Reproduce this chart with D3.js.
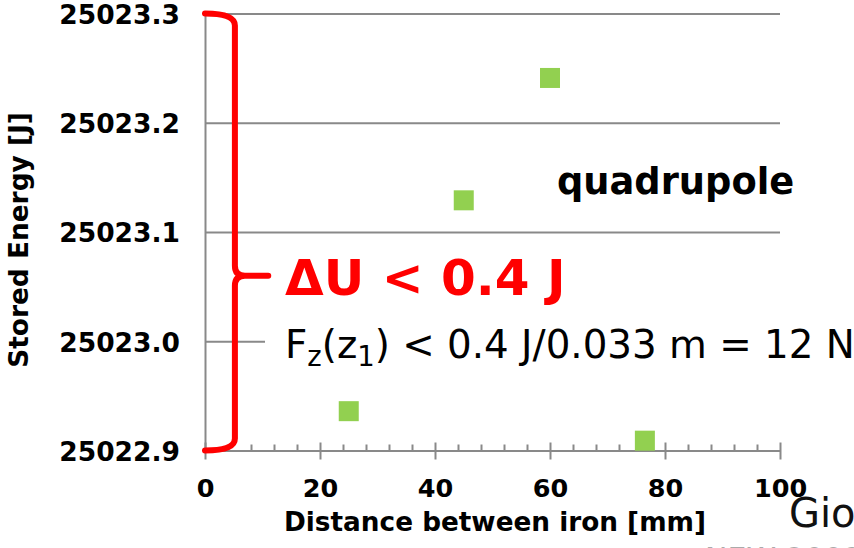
<!DOCTYPE html>
<html>
<head>
<meta charset="utf-8">
<script src="https://cdn.jsdelivr.net/npm/d3@7"></script>
<style>
  html, body { margin: 0; padding: 0; background: #fff; }
  svg { display: block; }
  text { font-family: "DejaVu Sans", Verdana, sans-serif; }
</style>
</head>
<body>
<svg id="chart" width="854" height="548"></svg>
<script>
// ---- data ----
const distances = [25, 45, 60, 76.5];
const energies = [25022.936, 25023.129, 25023.241, 25022.909];
const xTicks = [0, 20, 40, 60, 80, 100];
const yTicks = [25022.9, 25023.0, 25023.1, 25023.2, 25023.3];
const xTitle = "Distance between iron [mm]";
const yTitle = "Stored Energy [J]";
const seriesLabel = "quadrupole";
const deltaLabel = "\u0394U < 0.4 J";
const braceTop = 25023.3, braceBottom = 25022.9, braceTip = 25023.06;

const svg = d3.select("#chart");
const x = d3.scaleLinear().domain([0, 100]).range([205, 780]);
const y = d3.scaleLinear().domain([25022.9, 25023.3]).range([450.5, 13.5]);
const gridColor = "#898989";

// y axis with gridlines
const gy = svg.append("g").attr("transform", `translate(${x(0)},0)`)
  .call(d3.axisLeft(y).tickValues(yTicks).tickSize(-(x(100) - x(0))).tickSizeOuter(0)
        .tickPadding(25).tickFormat(d3.format(".1f")));
gy.select(".domain").attr("stroke", gridColor).attr("stroke-width", 2);
gy.selectAll(".tick line").attr("stroke", gridColor).attr("stroke-width", 2);
gy.selectAll(".tick text").attr("font-size", 26.5).attr("font-weight", "bold").attr("dy", "0.37em")
  .attr("fill", "#000").attr("font-family", "DejaVu Sans, Verdana, sans-serif");

// x axis minor ticks
const minorVals = d3.range(0, 101, 4).filter(v => v % 20 !== 0);
const gxm = svg.append("g").attr("transform", `translate(0,${y(25022.9)})`)
  .call(d3.axisBottom(x).tickValues(minorVals).tickSize(-6).tickSizeOuter(0).tickFormat(""));
gxm.select(".domain").remove();
gxm.selectAll(".tick line").attr("stroke", gridColor).attr("stroke-width", 2);

// x axis major
const gx = svg.append("g").attr("transform", `translate(0,${y(25022.9)})`)
  .call(d3.axisBottom(x).tickValues(xTicks).tickSize(9).tickSizeOuter(0).tickPadding(19));
gx.select(".domain").attr("stroke", gridColor).attr("stroke-width", 2);
gx.selectAll(".tick line").attr("stroke", gridColor).attr("stroke-width", 2).attr("y1", -8);
gx.selectAll(".tick text").attr("font-size", 25.5).attr("font-weight", "bold")
  .attr("fill", "#000").attr("font-family", "DejaVu Sans, Verdana, sans-serif");

// points
svg.append("g").selectAll("rect").data(distances).join("rect")
  .attr("x", (d) => x(d) - 10)
  .attr("y", (d, i) => y(energies[i]) - 10)
  .attr("width", 20).attr("height", 20)
  .attr("fill", "#92D050");

// brace annotation
const x0 = x(0), xv = x(5.2), xt = x(11);
const yT = y(braceTop), yB = y(braceBottom), yM = y(braceTip);
const p = d3.path();
p.moveTo(x0, yT);
p.quadraticCurveTo(xv, yT, xv, yT + 12);
p.lineTo(xv, yM - 10);
p.quadraticCurveTo(xv, yM, xv + 10, yM);
p.lineTo(xt, yM);
p.moveTo(xv + 10, yM);
p.quadraticCurveTo(xv, yM, xv, yM + 10);
p.lineTo(xv, yB - 12);
p.quadraticCurveTo(xv, yB, x0, yB);
svg.append("path").attr("d", p.toString()).attr("fill", "none")
  .attr("stroke", "#FF0000").attr("stroke-width", 6)
  .attr("stroke-linecap", "round").attr("stroke-linejoin", "round");

// white box behind formula
svg.append("rect").attr("x", 265).attr("y", 318).attr("width", 600).attr("height", 54).attr("fill", "#fff");

// titles
svg.append("text").attr("x", 495).attr("y", 531).attr("text-anchor", "middle")
  .attr("font-size", 26.3).attr("font-weight", "bold").text(xTitle);
svg.append("text").attr("transform", "translate(28,240) rotate(-90)").attr("text-anchor", "middle")
  .attr("font-size", 26.4).attr("font-weight", "bold").text(yTitle);

// annotations
svg.append("text").attr("x", 557).attr("y", 194).attr("font-size", 36.8).attr("font-weight", "bold").text(seriesLabel);
svg.append("text").attr("x", 285).attr("y", 295).attr("font-size", 50).attr("font-weight", "bold")
  .attr("fill", "#FF0000").text(deltaLabel);

const f = svg.append("text").attr("x", 285).attr("y", 358).attr("font-size", 38.8).attr("fill", "#000");
f.append("tspan").text("F");
f.append("tspan").attr("font-size", 27.5).attr("dy", 8).text("z");
f.append("tspan").attr("dy", -8).text("(z");
f.append("tspan").attr("font-size", 27.5).attr("dy", 8).text("1");
f.append("tspan").attr("dy", -8).text(") < 0.4 J/0.033 m = 12 N");

svg.append("text").attr("x", 789).attr("y", 527).attr("font-size", 40).attr("fill", "#111").text("Giovanni");
svg.append("text").attr("x", 705).attr("y", 569).attr("font-size", 30).attr("fill", "#aaa").text("NEW 2009");
</script>
</body>
</html>
